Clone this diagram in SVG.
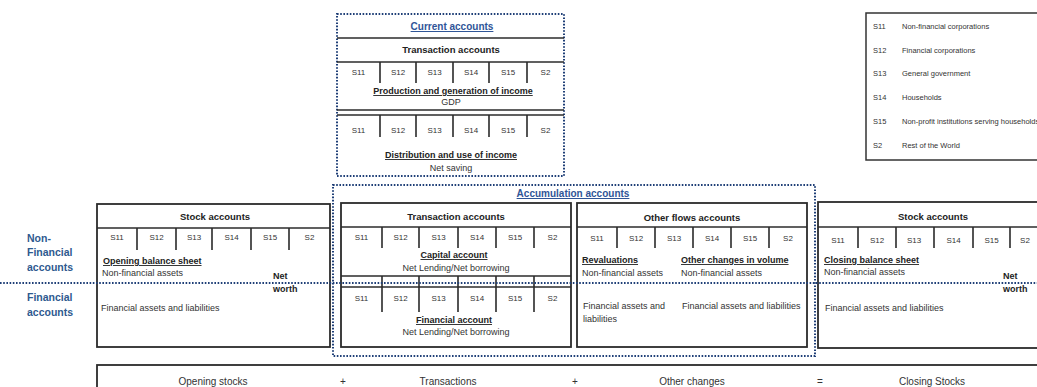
<svg xmlns="http://www.w3.org/2000/svg" width="1037" height="387" viewBox="0 0 1037 387">
<style>
text{font-family:"Liberation Sans",Arial,sans-serif;fill:#333}
.box{fill:none;stroke:#2b2b2b;stroke-width:1.8}
.ln{stroke:#2b2b2b;stroke-width:1.6;fill:none}
.dv{stroke:#2b2b2b;stroke-width:1.6}
.dot{fill:none;stroke:#1f3f77;stroke-width:2;stroke-dasharray:1.6 1.6}
.s{font-size:8px;text-anchor:middle}
.t{font-size:9.5px;font-weight:bold;text-anchor:middle;fill:#222}
.u{font-size:9px;font-weight:bold;text-decoration:underline;fill:#222}
.uc{font-size:9px;font-weight:bold;text-decoration:underline;text-anchor:middle;fill:#222}
.n{font-size:9px}
.nc{font-size:9px;text-anchor:middle}
.nw{font-size:9px;font-weight:bold;fill:#222}
.blue{font-size:10px;font-weight:bold;text-decoration:underline;text-anchor:middle;fill:#2f5597}
.side{font-size:10.5px;font-weight:bold;fill:#2e5a8f}
.lg{font-size:7.5px}
.bt{font-size:10px;text-anchor:middle}
</style>
<rect width="1037" height="387" fill="#fff"/>

<g id="side-labels">
<text class="side" x="27" y="242">Non-</text>
<text class="side" x="27" y="256">Financial</text>
<text class="side" x="27" y="271">accounts</text>
<text class="side" x="27" y="301">Financial</text>
<text class="side" x="27" y="316">accounts</text>
</g>

<g id="current-accounts">
<rect class="dot" x="337" y="14" width="227" height="162"/>
<text class="blue" x="452" y="30">Current accounts</text>
<line class="ln" x1="337" y1="38" x2="564" y2="38"/>
<text class="t" x="451" y="53">Transaction accounts</text>
<line class="ln" x1="337" y1="62" x2="564" y2="62"/>
<path class="dv" d="M380 62V83M416 62V83M453 62V83M489 62V83M527 62V83"/>
<text class="s" x="358.5" y="75">S11</text><text class="s" x="398" y="75">S12</text><text class="s" x="434.5" y="75">S13</text><text class="s" x="471" y="75">S14</text><text class="s" x="508" y="75">S15</text><text class="s" x="545.5" y="75">S2</text>
<text class="uc" x="453" y="94">Production and generation of income</text>
<text class="nc" x="451" y="105">GDP</text>
<line class="ln" x1="337" y1="110" x2="564" y2="110"/>
<line class="ln" x1="337" y1="115" x2="564" y2="115"/>
<path class="dv" d="M380 115V137M416 115V137M453 115V137M489 115V137M527 115V137"/>
<text class="s" x="358.5" y="133">S11</text><text class="s" x="398" y="133">S12</text><text class="s" x="434.5" y="133">S13</text><text class="s" x="471" y="133">S14</text><text class="s" x="508" y="133">S15</text><text class="s" x="545.5" y="133">S2</text>
<text class="uc" x="451" y="158">Distribution and use of income</text>
<text class="nc" x="451" y="171">Net saving</text>
</g>

<g id="legend">
<rect x="866" y="13" width="180" height="147" fill="none" stroke="#333" stroke-width="1.5"/>
<text class="lg" x="873" y="29">S11</text><text class="lg" x="902" y="29">Non-financial corporations</text>
<text class="lg" x="873" y="53">S12</text><text class="lg" x="902" y="53">Financial corporations</text>
<text class="lg" x="873" y="76">S13</text><text class="lg" x="902" y="76">General government</text>
<text class="lg" x="873" y="100">S14</text><text class="lg" x="902" y="100">Households</text>
<text class="lg" x="873" y="124">S15</text><text class="lg" x="902" y="124">Non-profit institutions serving households</text>
<text class="lg" x="873" y="148">S2</text><text class="lg" x="902" y="148">Rest of the World</text>
</g>

<g id="opening-stock-accounts">
<rect class="box" x="97" y="204" width="233" height="143"/>
<text class="t" x="215" y="220">Stock accounts</text>
<line class="ln" x1="97" y1="228" x2="330" y2="228"/>
<path class="dv" d="M137 228V250M176 228V250M212 228V250M251 228V250M289 228V250"/>
<text class="s" x="117" y="240">S11</text><text class="s" x="156.5" y="240">S12</text><text class="s" x="194" y="240">S13</text><text class="s" x="231.5" y="240">S14</text><text class="s" x="270" y="240">S15</text><text class="s" x="309.5" y="240">S2</text>
<text class="u" x="103" y="264">Opening balance sheet</text>
<text class="n" x="102" y="276">Non-financial assets</text>
<text class="nw" x="273" y="279">Net</text>
<text class="nw" x="273" y="292">worth</text>
<text class="n" x="101" y="311">Financial assets and liabilities</text>
</g>

<g id="accumulation-accounts">
<rect class="dot" x="333" y="185" width="482" height="171"/>
<text class="blue" x="573" y="197">Accumulation accounts</text>
</g>

<g id="transaction-accounts">
<rect class="box" x="341" y="203" width="230" height="144"/>
<text class="t" x="456" y="220">Transaction accounts</text>
<line class="ln" x1="341" y1="227" x2="571" y2="227"/>
<path class="dv" d="M382 227V248M419 227V248M458 227V248M496 227V248M534 227V248"/>
<text class="s" x="361.5" y="240">S11</text><text class="s" x="400.5" y="240">S12</text><text class="s" x="438.5" y="240">S13</text><text class="s" x="477" y="240">S14</text><text class="s" x="515" y="240">S15</text><text class="s" x="552.5" y="240">S2</text>
<text class="uc" x="454" y="258">Capital account</text>
<text class="nc" x="456" y="271">Net Lending/Net borrowing</text>
<line class="ln" x1="341" y1="276" x2="571" y2="276"/>
<line class="ln" x1="341" y1="287" x2="571" y2="287"/>
<path class="dv" d="M382 276V312M419 276V312M458 276V312M496 276V312M534 276V312"/>
<text class="s" x="361.5" y="301">S11</text><text class="s" x="400.5" y="301">S12</text><text class="s" x="438.5" y="301">S13</text><text class="s" x="477" y="301">S14</text><text class="s" x="515" y="301">S15</text><text class="s" x="552.5" y="301">S2</text>
<text class="uc" x="454" y="323">Financial account</text>
<text class="nc" x="456" y="335">Net Lending/Net borrowing</text>
</g>

<g id="other-flows-accounts">
<rect class="box" x="577" y="203" width="230" height="144"/>
<text class="t" x="692" y="221">Other flows accounts</text>
<line class="ln" x1="577" y1="227" x2="807" y2="227"/>
<path class="dv" d="M617 227V248M655 227V248M693 227V248M731 227V248M769 227V248"/>
<text class="s" x="597" y="241">S11</text><text class="s" x="636" y="241">S12</text><text class="s" x="674" y="241">S13</text><text class="s" x="712" y="241">S14</text><text class="s" x="750" y="241">S15</text><text class="s" x="788" y="241">S2</text>
<text class="u" x="582" y="263">Revaluations</text>
<text class="n" x="582" y="276">Non-financial assets</text>
<text class="u" x="681" y="263">Other changes in volume</text>
<text class="n" x="681" y="276">Non-financial assets</text>
<text class="n" x="583" y="309">Financial assets and</text>
<text class="n" x="583" y="322">liabilities</text>
<text class="n" x="682" y="309">Financial assets and liabilities</text>
</g>

<g id="closing-stock-accounts">
<rect class="box" x="818" y="202" width="233" height="146"/>
<text class="t" x="933" y="220">Stock accounts</text>
<line class="ln" x1="818" y1="227" x2="1051" y2="227"/>
<path class="dv" d="M858 227V248M896 227V248M934 227V248M973 227V248M1010 227V248"/>
<text class="s" x="838" y="243">S11</text><text class="s" x="877" y="243">S12</text><text class="s" x="914" y="243">S13</text><text class="s" x="953.5" y="243">S14</text><text class="s" x="991.5" y="243">S15</text><text class="s" x="1025" y="243">S2</text>
<text class="u" x="824" y="263">Closing balance sheet</text>
<text class="n" x="824" y="275">Non-financial assets</text>
<text class="nw" x="1003" y="279">Net</text>
<text class="nw" x="1003" y="292">worth</text>
<text class="n" x="825" y="311">Financial assets and liabilities</text>
</g>

<g id="separator">
<line class="dot" x1="0" y1="283" x2="1037" y2="283"/>
</g>

<g id="identity-bar">
<rect class="box" x="97" y="365" width="960" height="30"/>
<text class="bt" x="213" y="385">Opening stocks</text>
<text class="bt" x="343" y="385">+</text>
<text class="bt" x="448" y="385">Transactions</text>
<text class="bt" x="575" y="385">+</text>
<text class="bt" x="692" y="385">Other changes</text>
<text class="bt" x="820" y="385">=</text>
<text class="bt" x="932" y="385">Closing Stocks</text>
</g>
</svg>
